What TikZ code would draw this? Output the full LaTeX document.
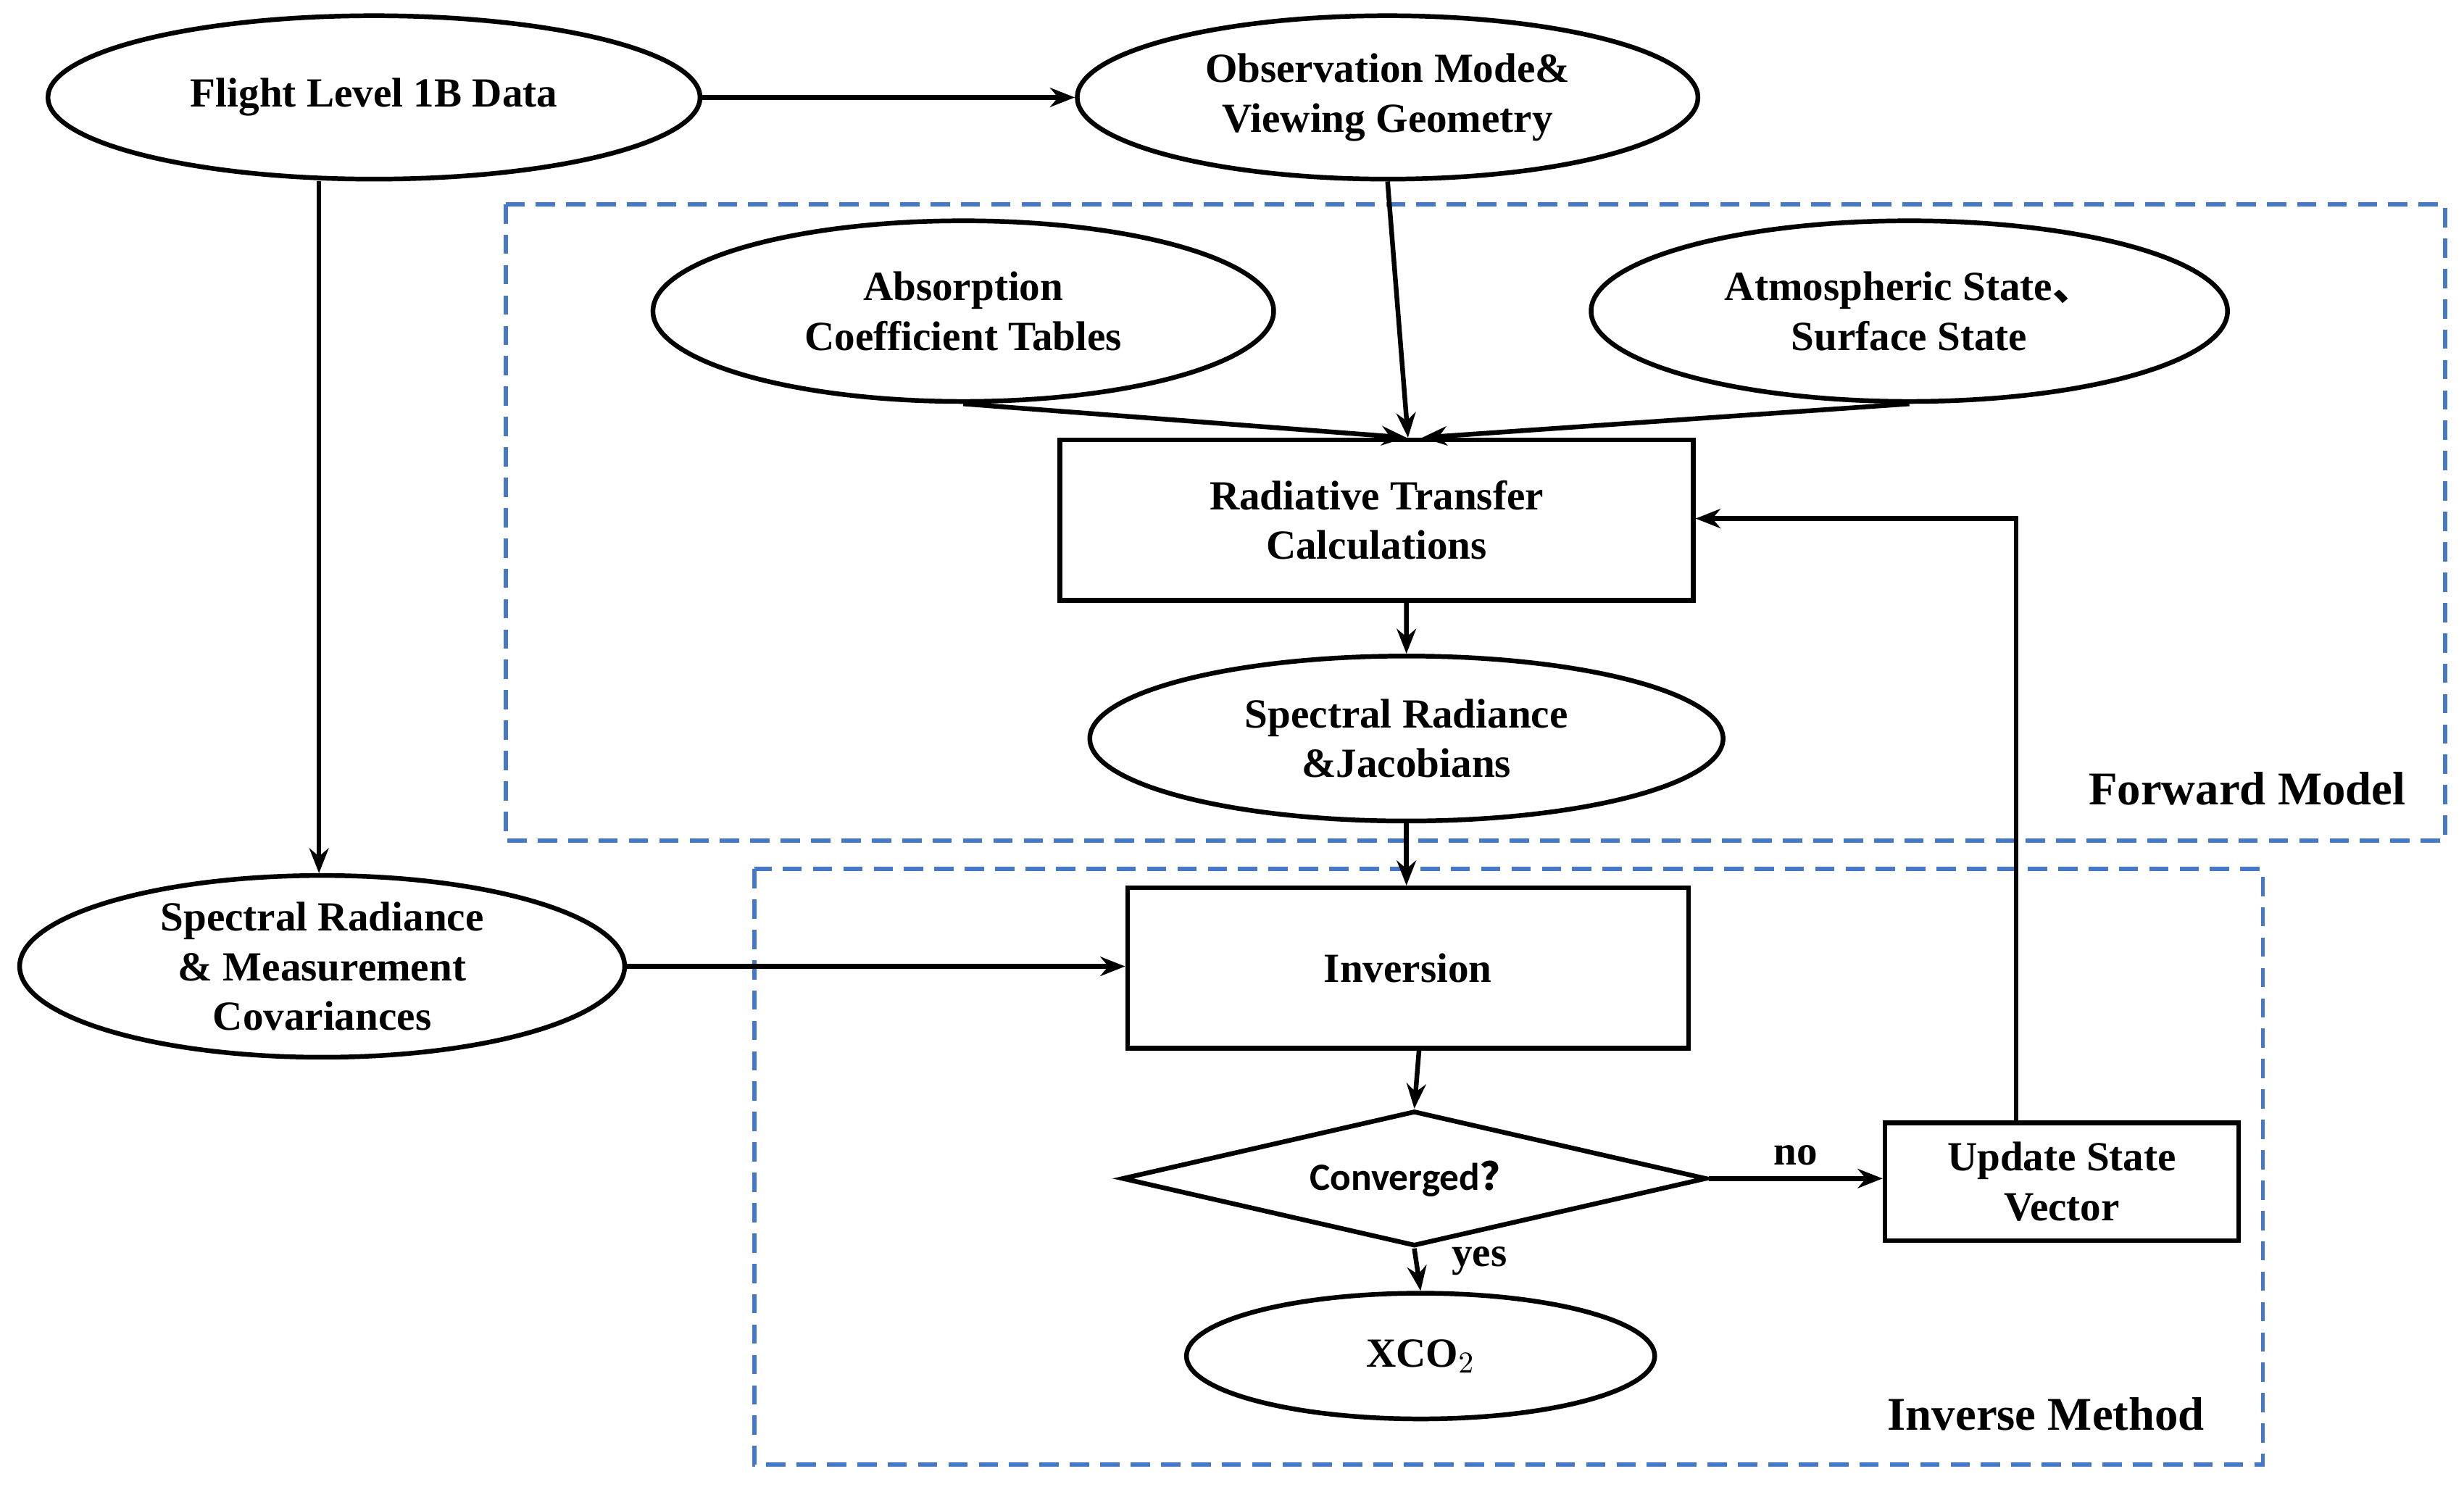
\documentclass[tikz,border=0pt]{standalone}
\usepackage{fontspec}
\setmainfont{Liberation Serif}
\newfontfamily\cjk{Noto Sans CJK SC}
\newfontfamily\carl{Carlito}
\usetikzlibrary{shapes.geometric,arrows.meta}
\begin{document}
\begin{tikzpicture}[x=0.02cm,y=-0.02cm,
  every node/.style={font=\fontsize{15}{18}\selectfont\bfseries, align=center, inner sep=0pt},
  ell/.style={draw, line width=1.7pt, ellipse},
  box/.style={draw, line width=1.7pt, rectangle},
  arr/.style={line width=1.7pt, -{Stealth[length=9pt,width=7pt]}},
  region/.style={draw={rgb,255:red,70;green,120;blue,200}, line width=1.5pt, dash pattern=on 7pt off 4pt}]
\useasboundingbox (0,0) rectangle (1568,946);
\draw[region] (322,130) rectangle (1556,535);
\draw[region] (480,553) rectangle (1440,932);
\node[ell, minimum width=415*0.02cm, minimum height=104*0.02cm] (flight) at (238,62) {Flight Level 1B Data};
\node[ell, minimum width=395*0.02cm, minimum height=104*0.02cm] (obs) at (883,62) {Observation Mode\&\\Viewing Geometry};
\node[ell, minimum width=395*0.02cm, minimum height=115*0.02cm] (abs) at (613,198) {Absorption\\Coefficient Tables};
\node[ell, minimum width=405*0.02cm, minimum height=115*0.02cm] (atm) at (1215,198) {Atmospheric State{\cjk 、}\\Surface State};
\node[box, minimum width=403*0.02cm, minimum height=102*0.02cm] (rtc) at (876,331) {Radiative Transfer\\Calculations};
\node[ell, minimum width=403*0.02cm, minimum height=105*0.02cm] (spec) at (895,470) {Spectral Radiance\\\&Jacobians};
\node[ell, minimum width=385*0.02cm, minimum height=112*0.02cm] (meas) at (205,615) {Spectral Radiance\\\& Measurement\\Covariances};
\node[box, minimum width=357*0.02cm, minimum height=102*0.02cm] (inv) at (896,616) {Inversion};
\node[draw, line width=1.7pt, diamond, aspect=4.3, minimum width=372*0.02cm, minimum height=86*0.02cm, font=\fontsize{14}{16}\selectfont\carl\bfseries] (conv) at (900,750) {Converged{\cjk ？}};
\node[box, minimum width=225*0.02cm, minimum height=75*0.02cm] (upd) at (1312,752) {Update State\\Vector};
\node[ell, minimum width=298*0.02cm, minimum height=80*0.02cm] (x) at (904,863) {XCO$_2$};
\node (fm) at (1430,502) {\fontsize{17}{20}\selectfont Forward Model};
\node (im) at (1302,900) {\fontsize{17}{20}\selectfont Inverse Method};
\draw[arr] (flight) -- (obs);
\draw[arr] (flight.south -| 203,0) -- (meas.north -| 203,0);
\draw[arr] (obs.south) -- ([xshift=0.4cm]rtc.north);
\draw[arr] (abs.south) -- ([xshift=0.38cm]rtc.north);
\draw[arr] (atm.south) -- ([xshift=0.58cm]rtc.north);
\draw[arr] ([xshift=0.38cm]rtc.south) -- (spec.north);
\draw[arr] (spec.south) -- (inv.north -| spec.south);
\draw[arr] (meas.east) -- (inv.west |- meas.east);
\draw[arr] ([xshift=0.14cm]inv.south) -- (conv.north);
\draw[arr] (conv.east) -- node[above=4pt] (no) {no} (upd.west |- conv.east);
\draw[arr] (conv.south) -- node[right=12pt, pos=0.3] (yes) {yes} (x.north);
\draw[arr] (upd.north -| 1283,0) -- (1283,330) -- (rtc.east |- 0,330);
\end{tikzpicture}
\end{document}
